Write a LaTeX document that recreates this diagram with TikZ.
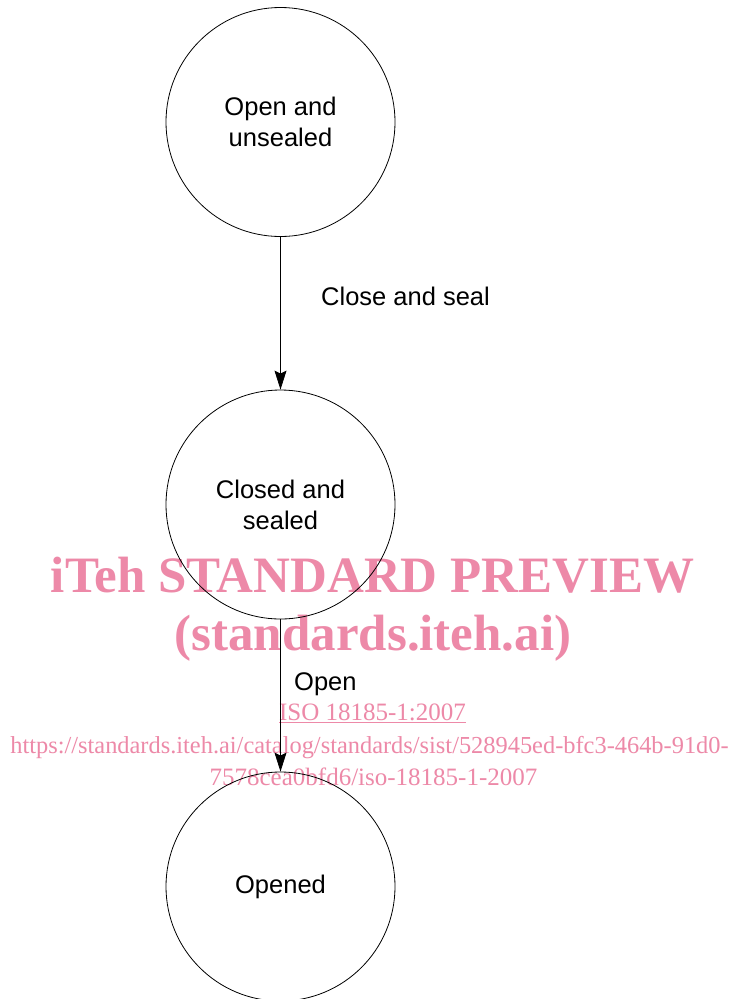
\documentclass[tikz,border=0pt]{standalone}
\usepackage{fontspec}
\setmainfont{Liberation Serif}
\newfontfamily\arialfont{Liberation Sans}
\usetikzlibrary{arrows.meta}
\definecolor{wmpink}{RGB}{237,137,168}
\begin{document}
\begin{tikzpicture}[x=1pt,y=-1pt,
  state/.style={circle, draw, line width=0.8pt, minimum size=229pt, inner sep=0pt,
    align=center, font=\arialfont\fontsize{25.5}{31}\selectfont},
  edgelabel/.style={inner sep=0pt, anchor=base west, font=\arialfont\fontsize{25.5}{31}\selectfont},
  trans/.style={line width=0.8pt, -{Stealth[length=19pt, width=12pt, inset=3pt]}},
  wmbig/.style={inner sep=0pt, anchor=base, text=wmpink, font=\bfseries\fontsize{51}{60}\selectfont},
  wmsmall/.style={inner sep=0pt, anchor=base, text=wmpink, font=\fontsize{25}{30}\selectfont}]
  \useasboundingbox (0,0) rectangle (735,999);
  \clip (0,0) rectangle (735,999);
  \fill[white] (0,0) rectangle (735,999);

  % watermark
  \node[wmbig] (wm1) at (372.5,592) {iTeh STANDARD PREVIEW};
  \node[wmbig] (wm2) at (373,650) {(standards.iteh.ai)};
  \node[wmsmall] (wm3) at (372.5,720) {\underline{ISO 18185-1:2007}};
  \node[wmsmall, font=\fontsize{24.4}{30}\selectfont] (wm4) at (369.5,753) {https://standards.iteh.ai/catalog/standards/sist/528945ed-bfc3-464b-91d0-};
  \node[wmsmall] (wm5) at (373.5,785) {7578cea0bfd6/iso-18185-1-2007};

  % states
  \node[state] (s1) at (280.5,122) {Open and\\unsealed};
  \node[state] (s2) at (280.5,504.5) {Closed and\\sealed};
  \node[state] (s3) at (280.5,886.5) {Opened};

  % transitions
  \draw[trans] (s1) -- (s2);
  \draw[trans] (s2) -- (s3);
  \node[edgelabel] (t1) at (321,305) {Close and seal};
  \node[edgelabel] (t2) at (294,690) {Open};
\end{tikzpicture}
\end{document}
